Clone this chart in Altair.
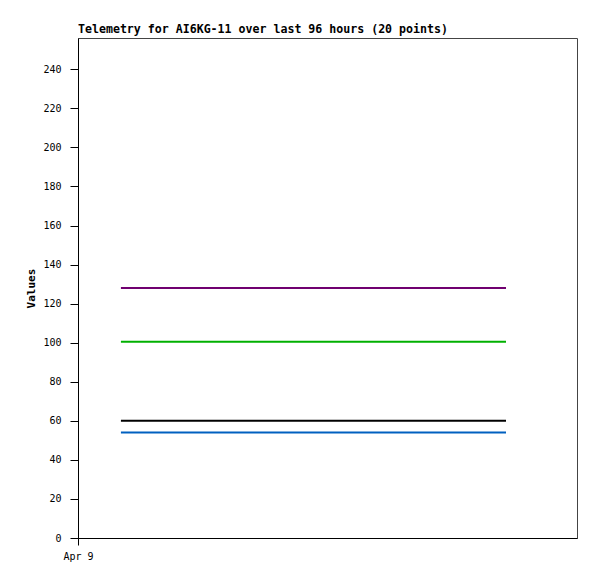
import altair as alt
import pandas as pd

# hours since Apr 9 00:00 for the 20 telemetry points
hours = [10.7, 15.8, 20.8, 25.9, 30.9, 36.0, 41.0, 46.1, 51.1, 56.2,
         61.2, 66.3, 71.3, 76.4, 81.4, 86.5, 91.5, 96.6, 101.6, 106.7]
series_names = ["A", "B", "C", "D"]
series_values = {
    "A": [128] * 20,
    "B": [100.5] * 20,
    "C": [60] * 20,
    "D": [54] * 20,
}
series_colors = ["#700070", "#00b000", "#000000", "#0060c0"]

rows = []
for s in series_names:
    for h, v in zip(hours, series_values[s]):
        rows.append({"hour": h, "value": v, "series": s})
df = pd.DataFrame(rows)

font = "DejaVu Sans Mono"

chart = alt.Chart(df).mark_line(strokeWidth=2).encode(
    x=alt.X("hour:Q", scale=alt.Scale(domain=[0, 124.4], nice=False, zero=False),
            axis=alt.Axis(values=[0], labelExpr="'Apr 9'", title=None, grid=False,
                          tickSize=7, tickColor="black", domainColor="black",
                          labelFont=font, labelFontSize=10, labelColor="black",
                          labelAlign="center", labelPadding=6)),
    y=alt.Y("value:Q", scale=alt.Scale(domain=[0, 256], nice=False),
            axis=alt.Axis(values=list(range(0, 241, 20)), title="Values", grid=False,
                          tickSize=8, tickColor="black", domainColor="black",
                          labelFont=font, labelFontSize=10, labelColor="black",
                          titleFont=font, titleFontSize=11, titleFontWeight="bold",
                          titleColor="black", labelPadding=9, titlePadding=6)),
    color=alt.Color("series:N", scale=alt.Scale(domain=series_names, range=series_colors),
                    legend=None),
).properties(
    width=499, height=500,
    title=alt.TitleParams("Telemetry for AI6KG-11 over last 96 hours (20 points)",
                          anchor="start", frame="group", font=font, fontSize=11.6,
                          fontWeight="bold", color="black", offset=2),
    autosize=alt.AutoSizeParams(type="none"),
    padding={"left": 70, "top": 30, "right": 10, "bottom": 30},
).configure_view(stroke="#444444", strokeWidth=1)

chart.save("out.html", embed_options={"renderer": "svg", "actions": False})
